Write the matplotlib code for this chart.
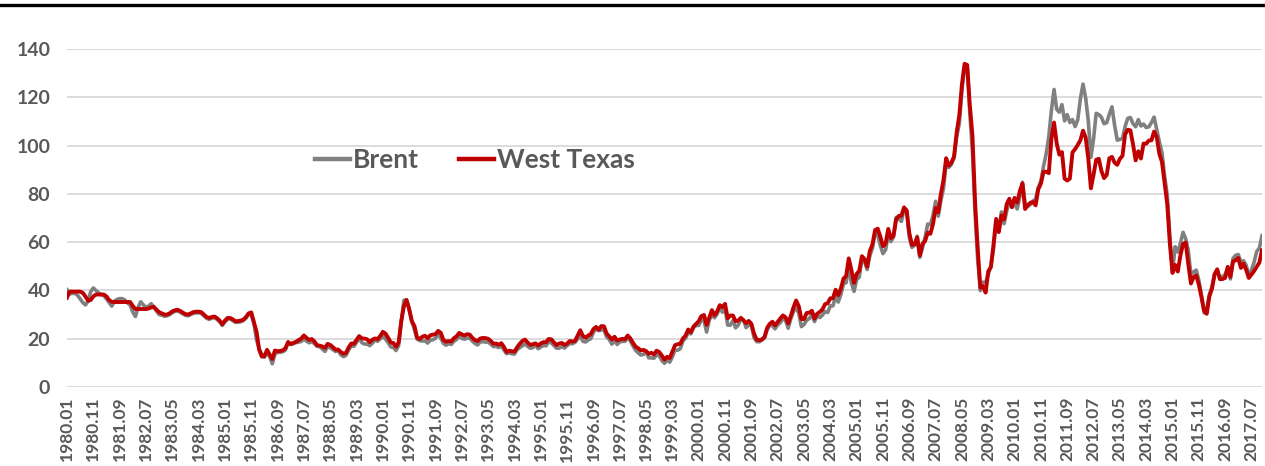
import matplotlib
matplotlib.use('Agg')
import matplotlib.pyplot as plt
from matplotlib.lines import Line2D

# monthly prices, USD per barrel, 1980.01 - 2017.11
start_year = 1980
label_step = 10
yticks = [0, 20, 40, 60, 80, 100, 120, 140]
series_names = ['Brent', 'West Texas']

brent = [
    40.3, 38.5, 38.8, 38.8, 38.0, 36.5, 35.0, 34.0, 35.5, 39.5, 41.0, 40.0,  # 1980
    39.0, 38.3, 37.8, 36.5, 35.0, 33.5, 35.5, 36.3, 36.6, 36.6, 36.0, 34.8,  # 1981
    34.0, 31.0, 29.2, 33.0, 35.3, 34.0, 33.0, 33.5, 34.5, 33.0, 31.5, 30.0,  # 1982
    29.8, 29.3, 29.5, 30.0, 30.8, 31.3, 31.5, 31.0, 30.3, 29.7, 29.5, 30.0,  # 1983
    30.5, 30.7, 30.7, 30.5, 29.5, 28.5, 28.0, 28.5, 28.7, 28.0, 27.0, 25.5,  # 1984
    27.0, 28.0, 28.2, 27.5, 26.8, 26.8, 27.0, 27.5, 28.5, 30.3, 29.8, 26.5,  # 1985
    19.5, 15.9, 13.6, 12.3, 14.2, 12.5, 9.6, 13.6, 14.3, 14.4, 14.6, 15.3,  # 1986
    18.4, 17.6, 17.9, 18.4, 18.58, 18.86, 19.86, 18.98, 18.31, 18.76, 18.01, 16.82,  # 1987
    16.75, 15.72, 14.73, 16.60, 16.31, 15.51, 14.71, 15.18, 13.37, 12.58, 13.10, 15.39,  # 1988
    16.96, 16.85, 18.46, 20.38, 18.37, 17.78, 17.80, 17.12, 18.12, 19.50, 18.92, 19.93,  # 1989
    21.25, 19.81, 18.39, 16.61, 16.35, 15.10, 17.17, 27.17, 35.94, 36.02, 31.89, 27.31,  # 1990
    23.79, 19.82, 19.23, 19.06, 19.12, 18.19, 19.34, 19.58, 20.21, 21.96, 20.32, 18.07,  # 1991
    17.31, 17.94, 17.63, 18.99, 19.70, 21.01, 20.16, 19.80, 20.21, 20.25, 19.01, 18.04,  # 1992
    17.41, 18.69, 18.75, 18.61, 18.59, 17.73, 16.77, 16.80, 16.36, 16.99, 15.31, 13.80,  # 1993
    14.16, 13.75, 13.65, 15.45, 16.32, 17.05, 17.81, 16.85, 16.05, 16.32, 17.36, 15.85,  # 1994
    16.59, 17.22, 17.04, 18.67, 18.32, 17.13, 16.07, 16.08, 16.76, 16.10, 17.14, 18.00,  # 1995
    17.93, 18.51, 19.89, 21.03, 18.91, 18.65, 19.48, 20.04, 22.65, 24.07, 23.36, 23.56,  # 1996
    23.73, 20.67, 19.73, 17.75, 19.34, 17.61, 18.68, 18.90, 18.94, 20.34, 19.11, 17.04,  # 1997
    15.25, 14.14, 13.26, 13.44, 14.58, 12.07, 12.08, 11.91, 13.41, 12.87, 10.96, 9.82,  # 1998
    11.13, 10.28, 12.51, 15.29, 15.23, 15.86, 19.08, 20.22, 22.54, 22.01, 24.58, 25.50,  # 1999
    25.51, 27.78, 27.49, 22.76, 27.74, 29.80, 28.68, 30.20, 33.14, 30.96, 32.55, 25.66,  # 2000
    25.62, 27.50, 24.50, 25.66, 28.31, 27.85, 24.61, 25.68, 25.62, 20.54, 18.80, 18.71,  # 2001
    19.42, 20.28, 23.70, 25.73, 25.35, 24.08, 25.74, 26.65, 28.40, 27.54, 24.34, 28.33,  # 2002
    31.18, 32.77, 30.61, 25.00, 25.86, 27.65, 28.35, 29.89, 27.11, 29.61, 28.75, 29.81,  # 2003
    31.28, 30.86, 33.63, 33.59, 37.57, 35.18, 38.22, 42.74, 43.20, 49.78, 43.11, 39.60,  # 2004
    44.51, 45.48, 53.10, 51.88, 48.65, 54.35, 57.52, 63.98, 62.91, 58.54, 55.24, 56.86,  # 2005
    62.99, 60.21, 62.06, 70.26, 69.78, 68.56, 73.67, 73.23, 61.96, 57.81, 58.76, 62.47,  # 2006
    53.68, 57.56, 62.05, 67.49, 67.21, 71.05, 76.93, 70.76, 77.17, 82.34, 92.41, 90.93,  # 2007
    92.18, 94.99, 103.64, 109.07, 122.80, 132.32, 132.72, 113.24, 97.23, 71.58, 52.45, 39.95,  # 2008
    43.44, 43.32, 46.54, 50.18, 57.30, 68.61, 64.44, 72.51, 67.65, 72.77, 76.66, 74.46,  # 2009
    76.17, 73.75, 78.83, 84.82, 75.95, 74.76, 75.58, 77.04, 77.84, 82.67, 85.28, 91.45,  # 2010
    96.52, 103.72, 114.64, 123.26, 114.99, 113.83, 116.97, 110.22, 112.83, 109.55, 110.77, 107.87,  # 2011
    110.69, 119.33, 125.45, 119.75, 110.34, 95.16, 102.62, 113.36, 112.86, 111.71, 109.06, 109.49,  # 2012
    112.96, 116.05, 108.47, 102.25, 102.56, 102.92, 107.93, 111.28, 111.60, 109.08, 107.79, 110.76,  # 2013
    108.12, 108.90, 107.48, 107.76, 109.54, 111.80, 106.77, 101.61, 97.09, 87.43, 79.44, 62.34,  # 2014
    47.76, 58.10, 55.89, 59.52, 64.08, 61.48, 56.56, 46.52, 47.62, 48.43, 44.27, 38.01,  # 2015
    30.70, 32.18, 38.21, 41.58, 46.74, 48.25, 44.95, 45.84, 46.57, 49.52, 44.73, 53.31,  # 2016
    54.58, 54.87, 51.59, 52.31, 50.33, 46.37, 48.48, 51.70, 56.15, 57.51, 62.71,  # 2017
]

wti = [
    37.0, 39.5, 39.5, 39.5, 39.5, 39.5, 39.0, 37.5, 35.8, 36.0, 37.5, 38.3,  # 1980
    38.3, 38.3, 38.3, 37.5, 36.0, 35.3, 35.2, 35.2, 35.2, 35.2, 35.2, 35.2,  # 1981
    35.2, 33.5, 32.3, 32.3, 32.3, 32.3, 32.3, 32.5, 33.0, 33.2, 32.0, 31.0,  # 1982
    30.5, 30.0, 30.0, 30.5, 31.3, 31.8, 32.0, 31.5, 30.8, 30.2, 30.0, 30.5,  # 1983
    31.0, 31.2, 31.2, 31.0, 30.0, 29.0, 28.6, 29.0, 29.2, 28.5, 27.5, 26.0,  # 1984
    27.5, 28.6, 28.6, 28.0, 27.2, 27.3, 27.5, 27.9, 29.0, 30.5, 30.9, 27.0,  # 1985
    22.93, 15.46, 12.61, 12.84, 15.38, 13.43, 11.59, 15.10, 14.87, 14.90, 15.22, 16.11,  # 1986
    18.65, 17.75, 18.30, 18.68, 19.44, 20.07, 21.34, 20.31, 19.53, 19.86, 18.85, 17.28,  # 1987
    17.13, 16.80, 16.20, 17.86, 17.42, 16.53, 15.50, 15.52, 14.54, 13.77, 14.14, 16.38,  # 1988
    18.02, 17.94, 19.48, 21.07, 20.12, 20.05, 19.78, 18.58, 19.59, 20.10, 19.86, 21.10,  # 1989
    22.86, 22.11, 20.39, 18.43, 18.20, 16.70, 18.45, 27.31, 33.51, 36.04, 32.33, 27.28,  # 1990
    25.23, 20.48, 19.90, 20.83, 21.23, 20.19, 21.40, 21.69, 21.89, 23.23, 22.46, 19.50,  # 1991
    18.79, 19.01, 18.92, 20.23, 20.98, 22.39, 21.78, 21.34, 21.88, 21.69, 20.34, 19.41,  # 1992
    19.03, 20.09, 20.32, 20.25, 19.95, 19.09, 17.89, 18.01, 17.50, 18.15, 16.61, 14.52,  # 1993
    15.03, 14.78, 14.68, 16.42, 17.89, 19.06, 19.66, 18.38, 17.45, 17.72, 18.07, 17.16,  # 1994
    18.04, 18.57, 18.54, 19.90, 19.74, 18.45, 17.33, 18.02, 18.23, 17.43, 17.99, 19.03,  # 1995
    18.85, 19.09, 21.33, 23.50, 21.17, 20.42, 21.30, 21.90, 23.97, 24.88, 23.71, 25.23,  # 1996
    25.13, 22.18, 20.97, 19.70, 20.82, 19.26, 19.66, 19.95, 19.80, 21.33, 20.19, 18.33,  # 1997
    16.72, 16.06, 15.12, 15.35, 14.91, 13.72, 14.17, 13.47, 15.03, 14.46, 13.00, 11.35,  # 1998
    12.52, 12.01, 14.68, 17.31, 17.72, 17.92, 20.10, 21.28, 23.80, 22.69, 25.00, 26.10,  # 1999
    27.26, 29.37, 29.84, 25.72, 28.79, 31.82, 29.70, 31.26, 33.88, 33.11, 34.42, 28.44,  # 2000
    29.59, 29.61, 27.24, 27.49, 28.63, 27.60, 26.43, 27.37, 26.20, 22.17, 19.64, 19.39,  # 2001
    19.72, 20.72, 24.53, 26.18, 27.04, 25.52, 26.97, 28.39, 29.66, 28.84, 26.35, 29.46,  # 2002
    32.95, 35.83, 33.51, 28.17, 28.11, 30.66, 30.76, 31.57, 28.31, 30.34, 31.11, 32.13,  # 2003
    34.31, 34.69, 36.74, 36.75, 40.28, 38.03, 40.78, 44.90, 45.94, 53.28, 48.47, 43.15,  # 2004
    46.84, 48.15, 54.19, 52.98, 49.83, 56.35, 59.00, 64.99, 65.59, 62.26, 58.32, 59.41,  # 2005
    65.49, 61.63, 62.69, 69.44, 70.84, 70.95, 74.41, 73.04, 63.80, 58.89, 59.08, 61.96,  # 2006
    54.51, 59.28, 60.44, 63.98, 63.45, 67.49, 74.12, 72.36, 79.92, 85.80, 94.77, 91.69,  # 2007
    92.97, 95.39, 105.45, 112.58, 125.40, 133.88, 133.37, 116.67, 104.11, 76.61, 57.31, 41.12,  # 2008
    41.71, 39.09, 47.94, 49.65, 59.03, 69.64, 64.15, 71.05, 69.41, 75.72, 77.99, 74.47,  # 2009
    78.33, 76.39, 81.20, 84.29, 73.74, 75.34, 76.32, 76.60, 75.24, 81.89, 84.25, 89.15,  # 2010
    89.17, 88.58, 102.86, 109.53, 100.90, 96.26, 97.30, 86.33, 85.52, 86.32, 97.16, 98.56,  # 2011
    100.27, 102.20, 106.16, 103.32, 94.66, 82.30, 87.90, 94.13, 94.51, 89.49, 86.53, 87.86,  # 2012
    94.76, 95.31, 92.94, 92.02, 94.51, 95.77, 104.67, 106.57, 106.29, 100.54, 93.86, 97.63,  # 2013
    94.62, 100.82, 100.80, 102.07, 102.18, 105.79, 103.59, 96.54, 93.21, 84.40, 75.79, 59.29,  # 2014
    47.22, 50.58, 47.82, 54.45, 59.27, 59.82, 50.90, 42.87, 45.48, 46.22, 42.44, 37.19,  # 2015
    31.68, 30.32, 37.55, 40.75, 46.71, 48.76, 44.65, 44.72, 45.18, 49.78, 45.66, 51.97,  # 2016
    52.50, 53.47, 49.33, 51.06, 48.48, 45.18, 46.63, 48.04, 49.82, 51.58, 56.64,  # 2017
]

months = ['%d.%02d' % (start_year + i // 12, i % 12 + 1) for i in range(len(wti))]

plt.rcParams['font.family'] = ['Lato', 'DejaVu Sans']
plt.rcParams['font.weight'] = 'bold'
text_grey = '#595959'

fig = plt.figure(figsize=(12.65, 4.66), dpi=100)
ax = fig.add_axes([67 / 1265, 79 / 466, 1195 / 1265, 338 / 466])

x = list(range(len(months)))
ax.plot(x, brent, color='#808080', lw=2.6, label=series_names[0])
ax.plot(x, wti, color='#C00000', lw=2.8, label=series_names[1])

ax.set_xlim(0, len(months) - 1)
ax.set_ylim(0, 140)
ax.set_yticks(yticks)
ax.set_xticks(x[::label_step])
ax.set_xticklabels(months[::label_step], rotation=90, fontsize=12.5,
                   color=text_grey, fontweight='bold')
ax.set_yticklabels([str(v) for v in yticks], fontsize=14, color=text_grey,
                   fontweight='bold')
ax.grid(axis='y', color='#D9D9D9', lw=1.3)
ax.set_axisbelow(True)
for s in ax.spines.values():
    s.set_visible(False)
ax.tick_params('x', length=0, pad=7)
ax.tick_params('y', length=0, pad=12)

leg = fig.legend(loc='center left', bbox_to_anchor=(291 / 1265, 1 - 160 / 466),
                 ncol=2, frameon=False, fontsize=19, handlelength=1.35,
                 handletextpad=0.1, columnspacing=1.5)
for t in leg.get_texts():
    t.set_color(text_grey)
    t.set_fontweight('bold')
for h in leg.get_lines():
    h.set_linewidth(3.2)

# heavy rule along the top edge
fig.add_artist(Line2D([0, 1], [1 - 5 / 466, 1 - 5 / 466], color='black', lw=2.4))

fig.savefig('out.png', dpi=100)
